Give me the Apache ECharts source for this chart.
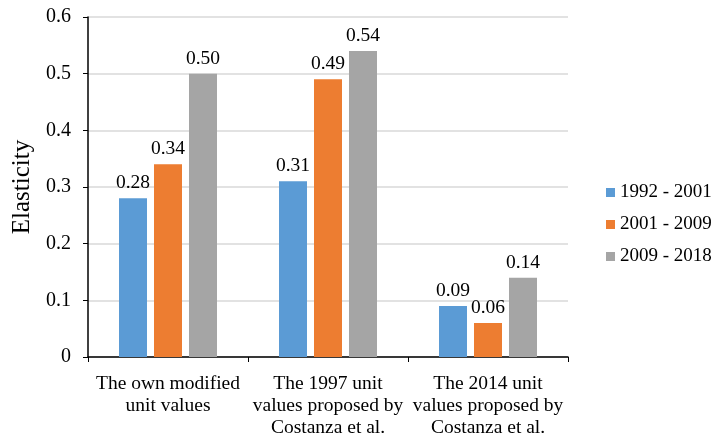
<!DOCTYPE html>
<html>
<head>
<meta charset="utf-8">
<script src="https://cdn.jsdelivr.net/npm/echarts@6/dist/echarts.min.js"></script>
<style>
  html, body { margin: 0; padding: 0; background: #fff; }
  #chart { width: 715px; height: 439px; }
</style>
</head>
<body>
<div id="chart"></div>
<script>
// Elasticity by valuation scheme and period
const categories = [
  'The own modified\nunit values',
  'The 1997 unit\nvalues proposed by\nCostanza et al.',
  'The 2014 unit\nvalues proposed by\nCostanza et al.'
];
const seriesNames = ['1992 - 2001', '2001 - 2009', '2009 - 2018'];
const values1992 = [0.28, 0.31, 0.09];
const values2001 = [0.34, 0.49, 0.06];
const values2009 = [0.50, 0.54, 0.14];
const colors = ['#5b9bd5', '#ed7d31', '#a5a5a5'];

const font = '"Liberation Serif", "Times New Roman", serif';

function makeSeries(name, data, color) {
  return {
    name: name,
    type: 'bar',
    data: data,
    barWidth: 28,
    barGap: '25%',
    itemStyle: { color: color },
    label: {
      show: true,
      position: 'top',
      distance: 5,
      fontFamily: font,
      fontSize: 19.5,
      color: '#000',
      formatter: p => p.value.toFixed(2)
    }
  };
}

const chart = echarts.init(document.getElementById('chart'));
chart.setOption({
  animation: false,
  textStyle: { fontFamily: font },
  grid: { left: 88, right: 147, top: 17, bottom: 80, containLabel: false },
  legend: {
    orient: 'vertical',
    left: 601,
    top: 178,
    itemWidth: 9,
    itemHeight: 9,
    itemGap: 13,
    icon: 'rect',
    textStyle: { fontFamily: font, fontSize: 19, color: '#000' },
    data: seriesNames
  },
  xAxis: {
    type: 'category',
    data: categories,
    axisLine: { lineStyle: { color: '#000', width: 1.5 } },
    axisTick: { show: true, length: 5, lineStyle: { color: '#000' } },
    axisLabel: {
      fontFamily: font, fontSize: 19.5, color: '#000',
      margin: 16, lineHeight: 22, interval: 0
    }
  },
  yAxis: {
    type: 'value',
    min: 0, max: 0.6, interval: 0.1,
    name: 'Elasticity',
    nameLocation: 'middle',
    nameGap: 53,
    nameTextStyle: { fontFamily: font, fontSize: 25, color: '#000' },
    axisLine: { show: true, lineStyle: { color: '#000', width: 1.5 } },
    axisTick: { show: true, length: 5, lineStyle: { color: '#000' } },
    axisLabel: {
      fontFamily: font, fontSize: 20, color: '#000', margin: 17,
      formatter: v => (v === 0 ? '0' : v.toFixed(1))
    },
    splitLine: { lineStyle: { color: '#d9d9d9', width: 1.5 } }
  },
  series: [
    makeSeries(seriesNames[0], values1992, colors[0]),
    makeSeries(seriesNames[1], values2001, colors[1]),
    makeSeries(seriesNames[2], values2009, colors[2])
  ]
});
</script>
</body>
</html>
